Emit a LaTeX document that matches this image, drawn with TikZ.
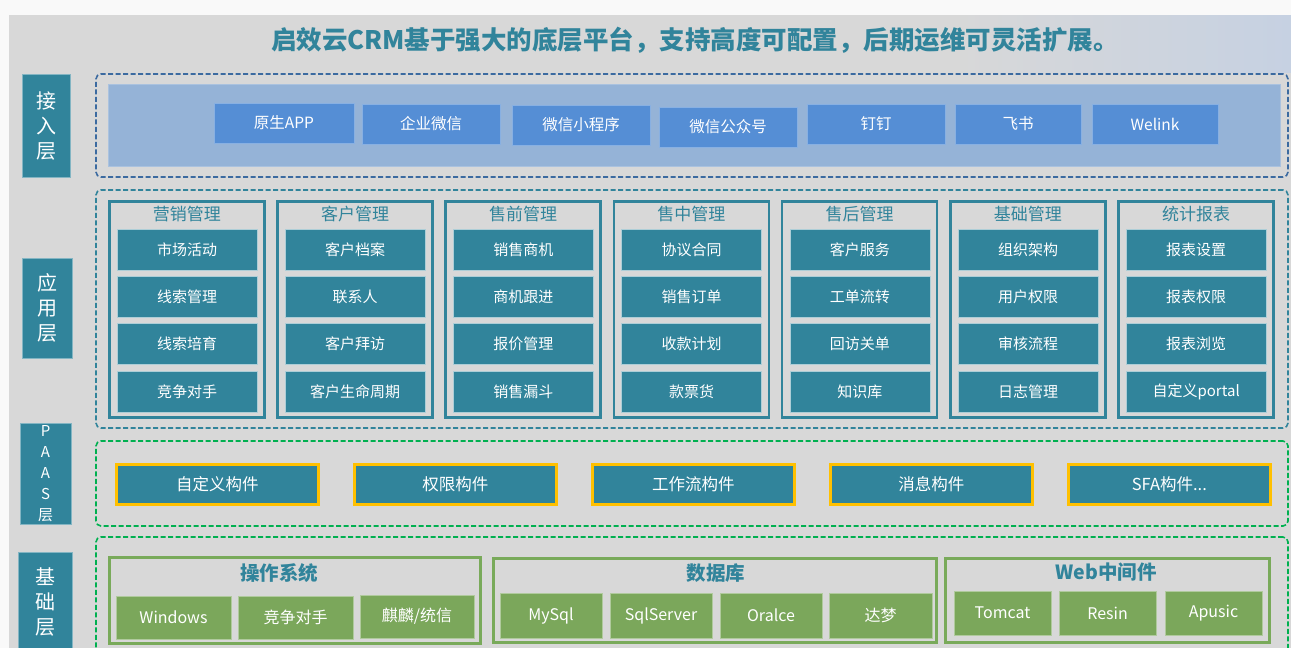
\documentclass[tikz,border=0pt]{standalone}
\usepackage{fontspec}
\setmainfont{Noto Sans CJK SC}
\usetikzlibrary{positioning}
\definecolor{bggray}{HTML}{D8D8D8}
\definecolor{tintblue}{HTML}{C6D1E2}
\definecolor{teal1}{HTML}{31849B}
\definecolor{dashblue}{HTML}{3B6AA0}
\definecolor{lightblue}{HTML}{95B3D7}
\definecolor{accblue}{HTML}{558ED5}
\definecolor{dashgreen}{HTML}{00B050}
\definecolor{gold}{HTML}{FFC000}
\definecolor{leaf}{HTML}{7BA75B}
\definecolor{leafedge}{HTML}{79AA5A}
\begin{document}
\begin{tikzpicture}[x=1pt,y=-1pt,
  every node/.style={inner sep=0pt, outer sep=0pt},
  layerlabel/.style={fill=teal1, draw=teal1!60!white, line width=0.6pt, text=white, anchor=north west, font=\fontsize{20}{25}\selectfont, align=center},
  dashbox/.style={draw, dash pattern=on 5pt off 2.5pt, line width=1.6pt, rounded corners=5pt, anchor=north west},
  accitem/.style={fill=accblue, draw=accblue!70!white, line width=0.6pt, text=white, minimum height=40pt, anchor=north west, font=\fontsize{15.5}{17}\selectfont},
  colbox/.style={draw=teal1, line width=2.6pt, fill=bggray, anchor=north west, minimum width=155pt, minimum height=216pt},
  coltitle/.style={text=teal1, font=\fontsize{17}{19}\selectfont},
  appitem/.style={fill=teal1, draw=teal1!40!white, line width=0.6pt, text=white, minimum width=140pt, minimum height=41pt, font=\fontsize{15}{17}\selectfont},
  paasitem/.style={fill=teal1, draw=gold, line width=2.6pt, text=white, minimum width=202pt, minimum height=40pt, anchor=north west, font=\fontsize{16.5}{18}\selectfont},
  grpbox/.style={draw=leafedge, line width=2.6pt, fill=bggray, anchor=north west},
  grptitle/.style={text=teal1, font=\bfseries\fontsize{19.5}{21}\selectfont},
  baseitem/.style={fill=leaf, draw=leaf!60!white, line width=0.6pt, text=white, anchor=north west, font=\fontsize{16}{18}\selectfont}
]
\useasboundingbox (0,0) rectangle (1291,648);
% background
\fill[white!95!gray] (0,0) rectangle (1291,648);
\fill[bggray] (9,15) rectangle (1291,648);
\shade[left color=bggray, right color=tintblue] (950,15) rectangle (1291,72);

% title
\node[text=teal1, font=\bfseries\fontsize{25.5}{28}\selectfont] (title) at (695,40) {启效云CRM基于强大的底层平台，支持高度可配置，后期运维可灵活扩展。};

% layer labels
\node[layerlabel, minimum width=48pt, minimum height=103pt] (l1) at (22,74) {接\\入\\层};
\node[layerlabel, minimum width=50pt, minimum height=100pt] (l2) at (22,258) {应\\用\\层};
\node[layerlabel, minimum width=51pt, minimum height=101pt, font=\fontsize{15}{21}\selectfont] (l3) at (20,423) {P\\A\\A\\S\\层};
\node[layerlabel, minimum width=54pt, minimum height=100pt] (l4) at (18,552) {基\\础\\层};

% access layer
\node[dashbox, draw=dashblue, minimum width=1192pt, minimum height=103pt] (acc) at (96,74) {};
\node[fill=lightblue, draw=lightblue!80!white, line width=0.6pt, anchor=north west, minimum width=1172pt, minimum height=82pt] (accin) at (108,84) {};
\node[accitem, minimum width=140pt] (a1) at (214,103) {原生APP};
\node[accitem, minimum width=138pt] (a2) at (362,104) {企业微信};
\node[accitem, minimum width=138pt] (a3) at (512,105) {微信小程序};
\node[accitem, minimum width=138pt] (a4) at (659,107) {微信公众号};
\node[accitem, minimum width=138pt] (a5) at (807,104) {钉钉};
\node[accitem, minimum width=126pt] (a6) at (955,104) {飞书};
\node[accitem, minimum width=126pt] (a7) at (1092,104) {Welink};

% application layer
\node[dashbox, draw=teal1, minimum width=1192pt, minimum height=238pt] (app) at (96,190) {};
\foreach \t/\a/\b/\c/\d [count=\i] in {
  营销管理/市场活动/线索管理/线索培育/竞争对手,
  客户管理/客户档案/联系人/客户拜访/客户生命周期,
  售前管理/销售商机/商机跟进/报价管理/销售漏斗,
  售中管理/协议合同/销售订单/收款计划/款票货,
  售后管理/客户服务/工单流转/回访关单/知识库,
  基础管理/组织架构/用户权限/审核流程/日志管理,
  统计报表/报表设置/报表权限/报表浏览/自定义portal}{
  \pgfmathsetmacro{\cx}{108+168.2*(\i-1)}
  \node[colbox] (col\i) at (\cx+1.3,201.3) {};
  \node[coltitle] (colt\i) at ([yshift=-13pt]col\i.north) {\t};
  \foreach \s [count=\r] in {\a,\b,\c,\d}{
    \pgfmathsetmacro{\cy}{249.5+47.3*(\r-1)}
    \node[appitem] (it\i-\r) at (\cx+79,\cy) {\s};
  }
}

% PAAS layer
\node[dashbox, draw=dashgreen, minimum width=1192pt, minimum height=85pt] (paas) at (96,441) {};
\node[paasitem] (p1) at (116.3,464.3) {自定义构件};
\node[paasitem] (p2) at (354.3,464.3) {权限构件};
\node[paasitem] (p3) at (592.3,464.3) {工作流构件};
\node[paasitem] (p4) at (830.3,464.3) {消息构件};
\node[paasitem] (p5) at (1068.3,464.3) {SFA构件...};

% base layer
\node[dashbox, draw=dashgreen, minimum width=1192pt, minimum height=130pt] (base) at (96,537) {};
\node[grpbox, minimum width=371pt, minimum height=86pt] (g1) at (109.3,557.3) {};
\node[grptitle] (g1t) at (279,573) {操作系统};
\node[baseitem, minimum width=115pt, minimum height=43pt] (b11) at (116,596) {Windows};
\node[baseitem, minimum width=115pt, minimum height=43pt] (b12) at (238,596) {竞争对手};
\node[baseitem, minimum width=114pt, minimum height=43pt] (b13) at (360,595) {麒麟/统信};

\node[grpbox, minimum width=443pt, minimum height=84pt] (g2) at (493.3,558.3) {};
\node[grptitle] (g2t) at (716,573) {数据库};
\node[baseitem, minimum width=102pt, minimum height=45pt] (b21) at (500,593) {MySql};
\node[baseitem, minimum width=102pt, minimum height=45pt] (b22) at (610,593) {SqlServer};
\node[baseitem, minimum width=102pt, minimum height=45pt] (b23) at (720,593) {Oralce};
\node[baseitem, minimum width=103pt, minimum height=45pt] (b24) at (829,593) {达梦};

\node[grpbox, minimum width=324pt, minimum height=84pt] (g3) at (945.3,558.3) {};
\node[grptitle] (g3t) at (1106,572) {Web中间件};
\node[baseitem, minimum width=97pt, minimum height=44pt] (b31) at (954,591) {Tomcat};
\node[baseitem, minimum width=97pt, minimum height=44pt] (b32) at (1059,591) {Resin};
\node[baseitem, minimum width=97pt, minimum height=44pt] (b33) at (1165,591) {Apusic};
\end{tikzpicture}
\end{document}
